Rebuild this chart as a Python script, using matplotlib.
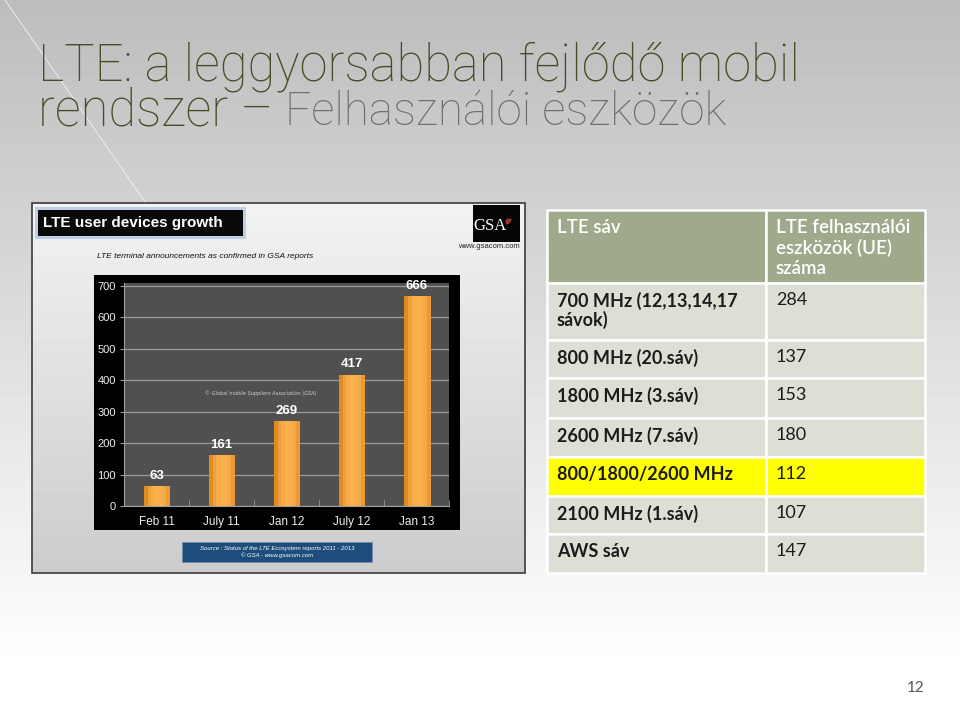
import numpy as np
import matplotlib.pyplot as plt
from matplotlib.patches import Rectangle, Arc
from matplotlib.colors import LinearSegmentedColormap

# chart data
months = ["Feb 11", "July 11", "Jan 12", "July 12", "Jan 13"]
devices = [63, 161, 269, 417, 666]
yticks = [0, 100, 200, 300, 400, 500, 600, 700]

# table data
header = ["LTE sáv", "LTE felhasználói\neszközök (UE)\nszáma"]
bands = ["700 MHz (12,13,14,17\nsávok)", "800 MHz (20.sáv)", "1800 MHz (3.sáv)",
         "2600 MHz (7.sáv)", "800/1800/2600 MHz", "2100 MHz (1.sáv)", "AWS sáv"]
ue_counts = [284, 137, 153, 180, 112, 107, 147]
highlight = 4

W, H = 960, 720
fig = plt.figure(figsize=(9.6, 7.2), dpi=100)

def box(x0, y0, x1, y1):
    return [x0 / W, 1 - y1 / H, (x1 - x0) / W, (y1 - y0) / H]

bg = fig.add_axes([0, 0, 1, 1])
bg.set_xlim(0, W)
bg.set_ylim(H, 0)
bg.axis("off")

# slide background
grad = np.clip(np.linspace(0.74, 1.02, 200), 0, 1)
bg.imshow(np.tile(grad[:, None], (1, 2)), cmap="gray", vmin=0, vmax=1,
          extent=(0, W, H, 0), aspect="auto", zorder=0)
bg.plot([5, 152], [0, 212], color="white", lw=0.8, alpha=0.6, zorder=1)

# title
tfont = dict(family="Roboto", weight="light")
bg.text(38, 80, "LTE: a leggyorsabban fejlődő mobil", fontsize=36.5, color="#4a4a26",
        va="baseline", **tfont)
t = bg.text(38, 125, "rendszer – ", fontsize=36.5, color="#4a4a26", va="baseline", **tfont)
fig.canvas.draw()
bb = t.get_window_extent()
bg.text(bb.x1, 125, "Felhasználói eszközök", fontsize=33, color="#6e6e6e",
        va="baseline", **tfont)

# ---- picture panel ----
px0, py0, px1, py1 = 32, 203, 525, 573
pg = np.linspace(0.95, 0.80, 100)
bg.imshow(np.tile(pg[:, None], (1, 2)), cmap="gray", vmin=0, vmax=1,
          extent=(px0, px1, py1, py0), aspect="auto", zorder=2)
bg.add_patch(Rectangle((px0, py0), px1 - px0, py1 - py0, fill=False,
                       ec="#3a3a3a", lw=1.2, zorder=3))

# headline label with glow
bg.add_patch(Rectangle((35, 207), 211, 32, fc="#9db8e0", ec="none", alpha=0.6, zorder=3))
bg.add_patch(Rectangle((38, 210), 205, 26, fc="#0a0a0a", ec="none", zorder=4))
bg.text(43, 223, "LTE user devices growth", fontsize=11, weight="bold",
        family="Liberation Sans", color="white", va="center", zorder=5)

# GSA logo
bg.add_patch(Rectangle((473, 205), 47, 37, fc="#050505", ec="none", zorder=4))
bg.text(490, 226, "GSA", fontsize=12, family="Liberation Serif", color="white",
        ha="center", va="center", zorder=5)
for r in (6, 9, 12):
    bg.add_patch(Arc((505, 218), r, r, theta1=10, theta2=80, color="#c0392b",
                     lw=1, zorder=5))
bg.text(520, 247, "www.gsacom.com", fontsize=5.5, family="Liberation Sans",
        color="#222222", ha="right", va="center", zorder=5)
bg.text(97, 256, "LTE terminal announcements as confirmed in GSA reports",
        fontsize=6, style="italic", family="Liberation Sans", color="#111111",
        va="center", zorder=5)

# black chart frame
bg.add_patch(Rectangle((94, 275), 366, 255, fc="black", ec="none", zorder=4))

# source box
bg.add_patch(Rectangle((182, 542), 190, 20, fc="#1e4d7b", ec="#6f8fb0", lw=0.6, zorder=4))
bg.text(277, 552, "Source : Status of the LTE Ecosystem reports 2011 - 2013\n© GSA - www.gsacom.com",
        fontsize=4.3, style="italic", family="Liberation Sans", color="white",
        ha="center", va="center", linespacing=1.1, zorder=5)

# ---- bar chart ----
ax = fig.add_axes(box(124, 283, 449, 506))
ax.set_facecolor("#505050")
x = np.arange(len(months))
bars = ax.bar(x, devices, width=0.4, color="#f0a035", zorder=3)
shade = np.array([[0.1, 0.6, 0.9, 1.0, 0.95, 0.8, 0.45]])
org = LinearSegmentedColormap.from_list("org", ["#e08a22", "#fbb24e"])
for b in bars:
    im = ax.imshow(shade, cmap=org, aspect="auto",
                   extent=(b.get_x(), b.get_x() + b.get_width(), 0, b.get_height()),
                   zorder=4)
    im.set_clip_path(b)
for xi, v in zip(x, devices):
    ax.annotate(str(v), (xi, v), xytext=(0, 3), textcoords="offset points",
                ha="center", va="bottom", color="white", weight="bold",
                fontsize=9.5, family="Liberation Sans", zorder=5)
ax.set_xlim(-0.5, len(months) - 0.5)
ax.set_ylim(0, 708)
ax.set_yticks(yticks)
ax.set_yticklabels([str(v) for v in yticks], color="#eeeeee", fontsize=8,
                   family="Liberation Sans")
ax.set_xticks(x)
ax.set_xticklabels(months, color="#eeeeee", fontsize=8.5, family="Liberation Sans")
ax.set_xticks(np.arange(-0.5, len(months)), minor=True)
ax.tick_params(axis="x", which="major", length=0, pad=7)
ax.tick_params(axis="x", which="minor", length=4, color="#9a9a9a", direction="in")
ax.tick_params(axis="y", length=3, color="#9a9a9a", pad=3)
ax.grid(axis="y", color="#9c9c9c", lw=0.9, zorder=1)
for s in ("top", "right"):
    ax.spines[s].set_visible(False)
for s in ("left", "bottom"):
    ax.spines[s].set_color("#a0a0a0")
ax.text(0.42, 0.505, "© Global mobile Suppliers Association (GSA)", transform=ax.transAxes,
        fontsize=3.6, style="italic", color="#cfcfcf", ha="center", va="center", zorder=5)

# ---- table ----
col_edges = [547, 766, 925]
row_edges = [210, 283, 340, 378, 418, 457, 496, 534, 573]
pad_x, pad_y = 10, 9
for r in range(len(row_edges) - 1):
    y0, y1 = row_edges[r], row_edges[r + 1]
    if r == 0:
        fc = "#9eaa8b"
        cells = header
        col = "white"
    else:
        fc = "#ffff00" if r - 1 == highlight else "#dcdfd4"
        cells = [bands[r - 1], str(ue_counts[r - 1])]
        col = "#1c1c1c"
    for c in range(2):
        x0, x1 = col_edges[c], col_edges[c + 1]
        bg.add_patch(Rectangle((x0, y0), x1 - x0, y1 - y0, fc=fc, ec="white",
                               lw=1.8, zorder=3))
        if r == 0:
            w, fs, ls = "semibold", 13.5, 1.2
        else:
            w, fs, ls = ("bold" if c == 0 else "normal"), 13, 1.08
        bg.text(x0 + pad_x, y0 + pad_y, cells[c], fontsize=fs, family="Lato",
                weight=w, color=col, va="top", ha="left", linespacing=ls, zorder=5)

bg.text(925, 688, "12", fontsize=11, family="Lato", color="#555555",
        ha="right", va="center")

fig.savefig("out.png", dpi=100)
